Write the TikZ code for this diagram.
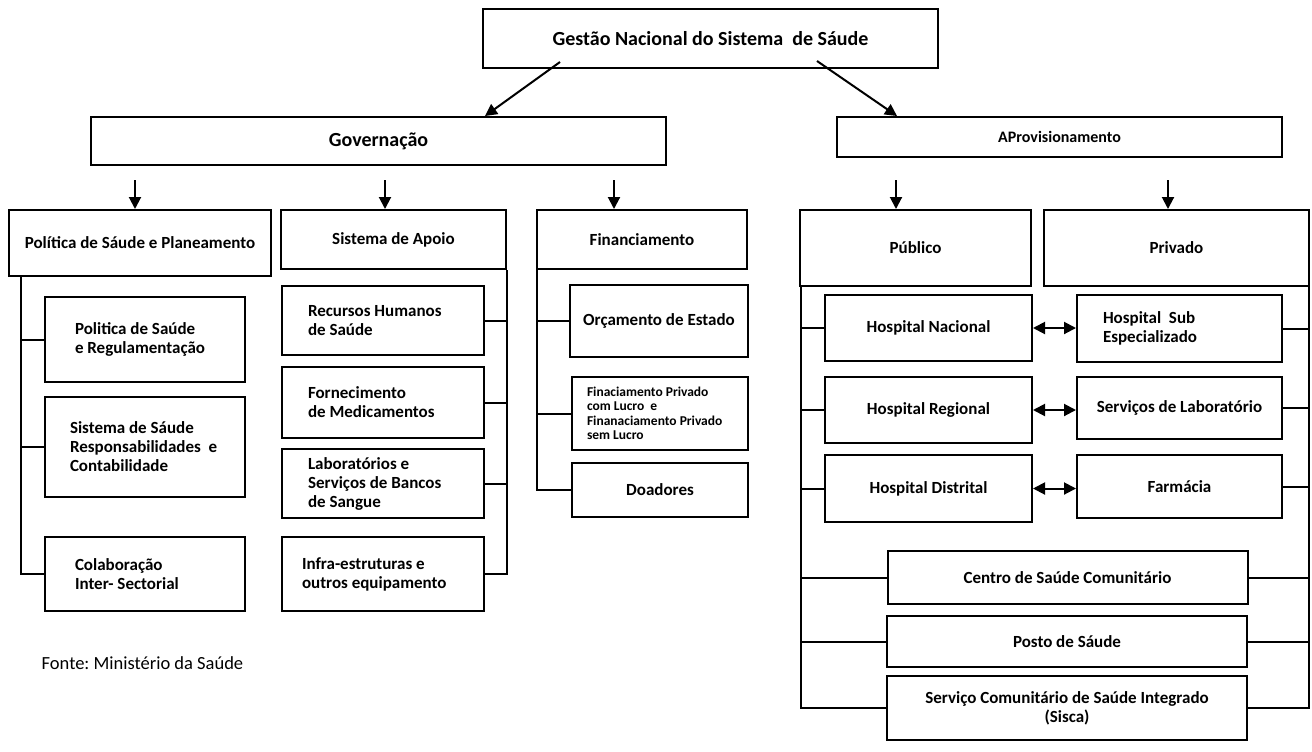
\documentclass[tikz,border=0pt]{standalone}
\usepackage{fontspec}
\setmainfont{Carlito}
\usepackage{tikz}
\usetikzlibrary{arrows,arrows.meta,shapes}
\usetikzlibrary{positioning,calc}
\tikzstyle{block} = [draw, rectangle, line width=1pt, inner sep=0pt,
    align=center, font=\bfseries\fontsize{8.5}{9.5}\selectfont]
\tikzstyle{lblock} = [block, align=flush left]
\tikzstyle{link} = [line width=1pt]
\tikzstyle{arr} = [line width=1pt, -{Triangle[width=6pt,length=6pt]}]
\tikzstyle{darr} = [line width=1pt,
    {Triangle[width=6pt,length=6pt]}-{Triangle[width=6pt,length=6pt]}]

\begin{document}
\frenchspacing
\begin{tikzpicture}[x=0.5pt, y=-0.5pt]
  \useasboundingbox (0,0) rectangle (1312,751);
  \node [block, minimum width=227.5pt, minimum height=29.5pt, font=\bfseries\fontsize{10}{12}\selectfont] (c0) at (710.5,38.5) {Gestão Nacional do Sistema~~de Sáude};
  \node [block, minimum width=287.5pt, minimum height=24pt, font=\bfseries\fontsize{10}{12}\selectfont] (c1) at (378.5,141) {Governação};
  \node [block, minimum width=222.5pt, minimum height=20pt, font=\bfseries\fontsize{8}{10}\selectfont] (c2) at (1059.5,137) {AProvisionamento};

  \node [block, minimum width=131pt, minimum height=33pt] (c11) at (140,243) {Política de Sáude e Planeamento};
  \node [block, minimum width=112.5pt, minimum height=29.5pt] (c12) at (393.5,239.5) {Sistema de Apoio};
  \node [block, minimum width=105pt, minimum height=29.5pt] (c13) at (642,239.5) {Financiamento};
  \node [block, minimum width=115.5pt, minimum height=38pt] (c21) at (915.5,248) {Público};
  \node [block, minimum width=132.5pt, minimum height=38pt] (c22) at (1176.5,248) {Privado};

  \node [lblock, minimum width=100pt, minimum height=42.5pt, text width=70pt] (c111) at (145,339.5) {Politica de Saúde\\e Regulamentação};
  \node [lblock, minimum width=100pt, minimum height=50pt, text width=75pt] (c112) at (145,447) {Sistema de Sáude\\Responsabilidades~~e\\Contabilidade};
  \node [lblock, minimum width=100pt, minimum height=37pt, text width=70pt] (c113) at (145,574) {Colaboração\\Inter-~Sectorial};

  \node [lblock, minimum width=101pt, minimum height=34.5pt, text width=75pt] (c121) at (383,320.5) {Recursos Humanos\\de Saúde};
  \node [lblock, minimum width=101pt, minimum height=35.5pt, text width=75pt] (c122) at (383,402.5) {Fornecimento\\de Medicamentos};
  \node [lblock, minimum width=101pt, minimum height=34.5pt, text width=75pt] (c123) at (383,483.5) {Laboratórios e\\Serviços de Bancos\\de Sangue};
  \node [lblock, minimum width=101pt, minimum height=37pt, text width=81pt] (c124) at (383,574) {Infra-estruturas e\\outros equipamento};

  \node [block, minimum width=89pt, minimum height=36pt] (c131) at (659,321) {Orçamento de Estado};
  \node [lblock, minimum width=88pt, minimum height=36.5pt, text width=73pt, font=\bfseries\fontsize{6.75}{7.2}\selectfont] (c132) at (660,413.5) {Finaciamento Privado\\com Lucro~~e\\Finanaciamento Privado\\sem Lucro};
  \node [block, minimum width=88pt, minimum height=27pt] (c133) at (660,490) {Doadores};

  \node [block, minimum width=103.5pt, minimum height=33pt] (c211) at (928.5,328) {Hospital Nacional};
  \node [block, minimum width=103.5pt, minimum height=33pt] (c212) at (928.5,410) {Hospital Regional};
  \node [block, minimum width=103.5pt, minimum height=33.5pt] (c213) at (928.5,488.5) {Hospital Distrital};
  \node [lblock, minimum width=102.5pt, minimum height=33.5pt, text width=76.5pt] (c221) at (1179.5,328.5) {Hospital~~Sub\\Especializado};
  \node [block, minimum width=102.5pt, minimum height=31pt] (c222) at (1179.5,408) {Serviços de Laboratório};
  \node [block, minimum width=102.5pt, minimum height=31.5pt] (c223) at (1179.5,486.5) {Farmácia};
  \node [block, minimum width=180pt, minimum height=26.5pt] (c231) at (1067.5,577.5) {Centro de Saúde Comunitário};
  \node [block, minimum width=180pt, minimum height=25.5pt] (c232) at (1067,641.5) {Posto de Sáude};
  \node [block, minimum width=180pt, minimum height=32pt] (c233) at (1067,708) {Serviço Comunitário de Saúde Integrado\\(Sisca)};

  \node [font=\fontsize{9.25}{11}\selectfont] (src) at (142.5,663) {Fonte: Ministério da Saúde};

  \draw [arr] ($(c0.south)+(-150.5,-7)$) -- ($(c1.north)+(106.5,0)$);
  \draw [arr] ($(c0.south)+(106.5,-8)$) -- ($(c2.north)+(-162.5,0)$);
  \foreach \n/\dx in {c11/-5,c12/-8.5,c13/-28,c21/-19.5,c22/-8.5}
    \draw [arr] ($(\n.north)+(\dx,-29)$) -- ++(0,29);

  \foreach \c in {c111,c112,c113}
    \draw [link] ($(c11.south west)+(13,0)$) |- (\c.west);
  \foreach \c in {c121,c122,c123,c124}
    \draw [link] (c12.south east) |- (\c.east);
  \foreach \c in {c131,c132,c133}
    \draw [link] ($(c13.south west)+(1,0)$) |- (\c.west);
  \foreach \c in {c211,c212,c213,c231,c232,c233}
    \draw [link] ($(c21.south west)+(2,0)$) |- (\c.west);
  \foreach \c in {c221,c222,c223,c231,c232,c233}
    \draw [link] ($(c22.south east)+(-1,0)$) |- (\c.east);

  \draw [darr] (c211.east) -- (c211.east -| c221.west);
  \draw [darr] (c212.east) -- (c212.east -| c222.west);
  \draw [darr] (c213.east) -- (c213.east -| c223.west);
\end{tikzpicture}
\end{document}
